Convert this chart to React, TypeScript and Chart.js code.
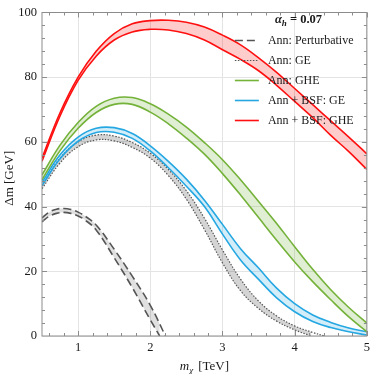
import { useEffect, useRef } from "react";
import { Chart, registerables } from "chart.js";

Chart.register(...registerables);

// ---- data ----
const massGrid = [0.5, 0.75, 1, 1.25, 1.5, 1.75, 2, 2.25, 2.5, 2.75, 3, 3.25, 3.5, 3.75, 4, 4.25, 4.5, 4.75, 5];

const bsfGheUpper = [55, 69, 80, 88, 93.5, 96.5, 97.5, 97.6, 97, 95.5, 93, 90, 86, 81.5, 76.5, 71.5, 66.5, 61.5, 56.3];
const bsfGheLower = [54, 68, 79, 86.5, 91.5, 94, 94.8, 94.6, 93.5, 91.5, 88.5, 85.5, 82, 77.5, 72.5, 67.5, 62, 57, 51.5];

const gheUpper = [49.8, 59, 66, 71, 73.5, 73.7, 71.8, 68.6, 64.6, 59.8, 54.5, 48.3, 41.6, 34.8, 27.6, 20.6, 14.3, 8.8, 4];
const gheLower = [48.3, 57.3, 64.2, 69.1, 71.6, 71.6, 69.2, 65.6, 61.2, 56.2, 50.2, 43.6, 36.6, 29.6, 22.9, 16.8, 11.2, 5.9, 1.3];

const bsfGeUpper = [47.5, 56, 61.5, 64.2, 64.4, 62.6, 58.8, 54, 48.5, 42, 34.5, 27, 21, 14.8, 10, 6.5, 4.2, 2.5, 1.3];
const bsfGeLower = [46.5, 54.8, 60.2, 62.9, 63, 61.1, 57.2, 52, 46.3, 40, 31.5, 23.5, 17.5, 11.8, 7.5, 4.5, 2.6, 1.3, 0.3];

const geUpperMass = [0.5, 0.75, 1, 1.25, 1.5, 1.75, 2, 2.25, 2.5, 2.75, 3, 3.25, 3.5, 3.75, 4, 4.25, 4.41];
const geUpper = [46.5, 55, 60, 62.1, 61.8, 59.8, 56.5, 51.5, 44.9, 36.4, 26.6, 17.6, 10.8, 6.2, 3.1, 1.1, 0];
const geLowerMass = [0.5, 0.75, 1, 1.25, 1.5, 1.75, 2, 2.25, 2.5, 2.75, 3, 3.25, 3.5, 3.75, 4, 4.23];
const geLower = [45.5, 53.5, 58.5, 60.6, 60.3, 58.3, 55, 49.6, 42.3, 32.9, 22.6, 14, 8.5, 4.6, 1.9, 0];

const pertUpperMass = [0.5, 0.6, 0.7, 0.8, 0.9, 1, 1.1, 1.25, 1.5, 1.75, 2, 2.21];
const pertUpper = [36.5, 38.3, 39.2, 39.4, 39.1, 38.3, 37, 34.3, 26.8, 18.5, 9.5, 0];
const pertLowerMass = [0.5, 0.6, 0.7, 0.8, 0.9, 1, 1.1, 1.25, 1.5, 1.75, 2, 2.13];
const pertLower = [35.3, 37, 37.9, 38.2, 37.9, 37.1, 35.8, 32.8, 24.2, 15, 5, 0];

const xTickValues = [1, 2, 3, 4, 5];
const yTickValues = [0, 20, 40, 60, 80, 100];
const legendLabels = ["Ann: Perturbative", "Ann: GE", "Ann: GHE", "Ann + BSF: GE", "Ann + BSF: GHE"];
const legendTitle = { symbol: "α", sub: "h", rest: " = 0.07" };

const FONT = '"Liberation Serif", "DejaVu Serif", serif';

const pts = (ms: number[], vs: number[]) => ms.map((m, i) => ({ x: m, y: vs[i] }));

type Band = {
  label: string;
  mu: number[]; up: number[]; ml: number[]; lo: number[];
  color: string; fill: string; width: number; dash: number[];
};

const bands: Band[] = [
  { label: legendLabels[4], mu: massGrid, up: bsfGheUpper, ml: massGrid, lo: bsfGheLower, color: "#ff1010", fill: "rgba(255,0,0,0.2)", width: 1.6, dash: [] },
  { label: legendLabels[2], mu: massGrid, up: gheUpper, ml: massGrid, lo: gheLower, color: "#74b23a", fill: "rgba(116,178,58,0.22)", width: 1.6, dash: [] },
  { label: legendLabels[3], mu: massGrid, up: bsfGeUpper, ml: massGrid, lo: bsfGeLower, color: "#25a7e2", fill: "rgba(37,167,226,0.2)", width: 1.6, dash: [] },
  { label: legendLabels[1], mu: geUpperMass, up: geUpper, ml: geLowerMass, lo: geLower, color: "#555555", fill: "rgba(0,0,0,0.17)", width: 1.2, dash: [1.5, 1.5] },
  { label: legendLabels[0], mu: pertUpperMass, up: pertUpper, ml: pertLowerMass, lo: pertLower, color: "#555555", fill: "rgba(0,0,0,0.12)", width: 1.6, dash: [8, 4] },
];

const legendOrder = [4, 3, 1, 2, 0]; // rows: Perturbative, GE, GHE, BSF GE, BSF GHE

const framePlugin = {
  id: "frameTicks",
  afterDatasetsDraw(chart: any) {
    const { ctx, chartArea, scales } = chart;
    const { left, right, top, bottom } = chartArea;
    const x = scales.x, y = scales.y;
    ctx.save();
    ctx.strokeStyle = "#8c8c8c";
    ctx.lineWidth = 1;
    ctx.strokeRect(left, top, right - left, bottom - top);
    ctx.beginPath();
    for (let k = 3; k <= 25; k++) {
      const v = k * 0.2;
      const px = Math.round(x.getPixelForValue(v)) + 0.5;
      const len = k % 5 === 0 ? 5 : 3;
      ctx.moveTo(px, bottom); ctx.lineTo(px, bottom - len);
      ctx.moveTo(px, top); ctx.lineTo(px, top + len);
    }
    for (let k = 1; k < 25; k++) {
      const v = k * 4;
      const py = Math.round(y.getPixelForValue(v)) + 0.5;
      const len = k % 5 === 0 ? 5 : 3;
      ctx.moveTo(left, py); ctx.lineTo(left + len, py);
      ctx.moveTo(right, py); ctx.lineTo(right - len, py);
    }
    ctx.stroke();
    ctx.restore();
  },
  afterDraw(chart: any) {
    const { ctx, chartArea } = chart;
    const { left, right, top, bottom } = chartArea;
    ctx.save();
    ctx.fillStyle = "#1a1a1a";
    // y title
    ctx.save();
    ctx.translate(10, (top + bottom) / 2 + 4);
    ctx.rotate(-Math.PI / 2);
    ctx.textAlign = "center";
    ctx.textBaseline = "middle";
    ctx.font = `13px ${FONT}`;
    ctx.fillText("Δm [GeV]", 0, 0);
    ctx.restore();
    // x title with subscript
    ctx.textBaseline = "alphabetic";
    ctx.textAlign = "left";
    const parts = [
      { t: "m", f: `italic 13px ${FONT}`, dy: 0, gap: 0 },
      { t: "χ", f: `italic 9px ${FONT}`, dy: 3, gap: 5 },
      { t: "[TeV]", f: `13px ${FONT}`, dy: 0, gap: 0 },
    ];
    let total = 0;
    parts.forEach(p => { ctx.font = p.f; total += ctx.measureText(p.t).width + p.gap; });
    let cx = (left + right) / 2 - total / 2;
    const by = 370;
    parts.forEach(p => { ctx.font = p.f; ctx.fillText(p.t, cx, by + p.dy); cx += ctx.measureText(p.t).width + p.gap; });

    // legend
    const lx0 = right - 132, lx1 = right - 108, tx = right - 99;
    let ax = right - 92;
    const ty = 23;
    ctx.font = `italic bold 12.5px ${FONT}`;
    ctx.fillText(legendTitle.symbol, ax, ty); ax += ctx.measureText(legendTitle.symbol).width;
    ctx.font = `italic bold 9px ${FONT}`;
    ctx.fillText(legendTitle.sub, ax, ty + 3); ax += ctx.measureText(legendTitle.sub).width;
    ctx.font = `bold 12.5px ${FONT}`;
    ctx.fillText(legendTitle.rest, ax, ty);
    legendOrder.forEach((bi, row) => {
      const b = bands[bi];
      const yy = top + 28 + row * 20;
      ctx.save();
      ctx.strokeStyle = b.color;
      ctx.lineWidth = b.width;
      ctx.setLineDash(b.dash);
      ctx.beginPath();
      ctx.moveTo(lx0, yy); ctx.lineTo(lx1, yy);
      ctx.stroke();
      ctx.restore();
      ctx.font = `12px ${FONT}`;
      ctx.fillStyle = "#1a1a1a";
      ctx.textBaseline = "middle";
      ctx.fillText(b.label, tx, yy);
    });
    ctx.restore();
  },
};

export default function App() {
  const ref = useRef<HTMLCanvasElement | null>(null);
  useEffect(() => {
    if (!ref.current) return;
    const datasets: any[] = [];
    bands.forEach(b => {
      datasets.push({
        label: b.label,
        data: pts(b.mu, b.up),
        borderColor: b.color, borderWidth: b.width, borderDash: b.dash,
        pointRadius: 0, tension: 0.4, fill: false,
      });
      datasets.push({
        label: b.label + " (lower)",
        data: pts(b.ml, b.lo),
        borderColor: b.color, borderWidth: b.width, borderDash: b.dash,
        pointRadius: 0, tension: 0.4,
        fill: { target: "-1" }, backgroundColor: b.fill,
      });
    });
    const chart = new Chart(ref.current, {
      type: "line",
      data: { datasets },
      options: {
        responsive: false,
        animation: false,
        events: [],
        layout: { padding: { top: 7, right: 4.5, left: 0, bottom: 0 } },
        plugins: { legend: { display: false }, tooltip: { enabled: false }, filler: { propagate: false } },
        scales: {
          x: {
            type: "linear", min: 0.5, max: 5,
            afterBuildTicks: (s: any) => { s.ticks = xTickValues.map(v => ({ value: v })); },
            afterFit: (s: any) => { s.height = 38; },
            ticks: { font: { family: FONT, size: 12.5 }, color: "#1a1a1a", padding: 4, maxRotation: 0, autoSkip: false },
            grid: { color: "#e4e4e4", drawTicks: false },
            border: { display: false },
          },
          y: {
            type: "linear", min: 0, max: 100,
            afterBuildTicks: (s: any) => { s.ticks = yTickValues.map(v => ({ value: v })); },
            afterFit: (s: any) => { s.width = 42; },
            ticks: { font: { family: FONT, size: 12.5 }, color: "#1a1a1a", padding: 5, autoSkip: false },
            grid: { color: "#e4e4e4", drawTicks: false },
            border: { display: false },
          },
        },
      },
      plugins: [framePlugin],
    });
    return () => chart.destroy();
  }, []);
  return (
    <div style={{ position: "absolute", left: 0, top: 0, width: 374, height: 374, background: "#fff" }}>
      <canvas ref={ref} width={374} height={374} />
    </div>
  );
}
